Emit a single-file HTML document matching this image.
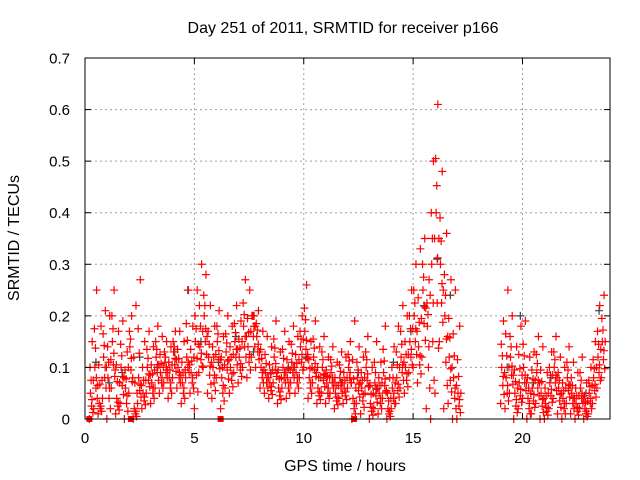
<!DOCTYPE html>
<html><head><meta charset="utf-8">
<style>
html,body{margin:0;padding:0;background:#fff;}
svg{display:block;font-family:"Liberation Sans",sans-serif;}
</style></head>
<body>
<svg id="chart" width="640" height="480" xmlns="http://www.w3.org/2000/svg">
<rect width="640" height="480" fill="#fff"/>
<g id="grid"></g>
<g id="marks"></g>
<g id="axes"></g>
<text x="343" y="33" font-size="16" text-anchor="middle">Day 251 of 2011, SRMTID for receiver p166</text>
<text x="345" y="471" font-size="16" text-anchor="middle">GPS time / hours</text>
<text transform="translate(19,238) rotate(-90)" font-size="16" text-anchor="middle">SRMTID / TECUs</text>
</svg>
<script>
const xTicks=[0,5,10,15,20];
const yTicks=[0,0.1,0.2,0.3,0.4,0.5,0.6,0.7];
const yTickLabels=["0","0.1","0.2","0.3","0.4","0.5","0.6","0.7"];
const times=[0.2,0.4,0.6,0.8,1.0,1.2,1.4,1.6,1.8,2.0,2.2,2.4,2.6,2.8,3.0,3.2,3.4,3.6,3.8,4.0,4.2,4.4,4.6,4.8,5.0,5.2,5.4,5.6,5.8,6.0,6.2,6.4,6.6,6.8,7.0,7.2,7.4,7.6,7.8,8.0,8.2,8.4,8.6,8.8,9.0,9.2,9.4,9.6,9.8,10.0,10.2,10.4,10.6,10.8,11.0,11.2,11.4,11.6,11.8,12.0,12.2,12.4,12.6,12.8,13.0,13.2,13.4,13.6,13.8,14.0,14.2,14.4,14.6,14.8,15.0,15.2,15.4,15.6,15.8,16.0,16.2,16.4,16.6,16.8,17.0,19.0,19.2,19.4,19.6,19.8,20.0,20.2,20.4,20.6,20.8,21.0,21.2,21.4,21.6,21.8,22.0,22.2,22.4,22.6,22.8,23.0,23.2,23.4,23.6];
const valuesMid=[.05,.10,.03,.12,.08,.15,.04,.10,.06,.14,.02,.08,.05,.10,.07,.12,.09,.11,.08,.13,.10,.07,.12,.09,.15,.14,.20,.12,.10,.15,.08,.13,.10,.15,.12,.18,.14,.20,.16,.10,.09,.07,.12,.06,.10,.08,.11,.09,.14,.17,.08,.12,.06,.10,.07,.09,.05,.08,.06,.10,.04,.08,.06,.10,.03,.07,.05,.09,.02,.06,.08,.12,.10,.15,.20,.14,.25,.18,.30,.40,.30,.20,.12,.08,.05,.10,.08,.12,.05,.07,.10,.04,.06,.09,.05,.03,.07,.10,.06,.04,.08,.05,.03,.06,.02,.05,.08,.12,.15];
const valuesLow=[.00,.02,.01,.04,.00,.06,.01,.03,.00,.05,.00,.03,.02,.05,.03,.06,.05,.07,.04,.08,.06,.03,.08,.05,.02,.09,.10,.05,.04,.08,.02,.06,.05,.09,.07,.10,.08,.12,.10,.06,.05,.04,.07,.03,.06,.04,.07,.05,.08,.10,.04,.07,.03,.05,.03,.05,.02,.04,.03,.06,.00,.03,.01,.05,.00,.02,.01,.04,.00,.02,.03,.06,.05,.09,.10,.07,.12,.02,.00,.05,.15,.02,.03,.00,.00,.03,.02,.05,.00,.02,.04,.00,.01,.03,.00,.00,.02,.04,.01,.00,.03,.01,.00,.02,.00,.01,.03,.06,.08];
const valuesHigh=[.15,.25,.18,.21,.20,.25,.17,.19,.13,.20,.22,.27,.15,.17,.14,.18,.16,.15,.14,.17,.17,.15,.25,.18,.25,.30,.28,.22,.18,.21,.16,.20,.18,.22,.19,.27,.25,.20,.21,.17,.16,.14,.19,.13,.17,.15,.18,.16,.20,.26,.15,.19,.14,.16,.12,.14,.11,.13,.12,.15,.19,.14,.12,.16,.10,.15,.11,.18,.08,.14,.18,.22,.20,.25,.30,.33,.35,.27,.50,.61,.48,.36,.27,.25,.18,.19,.25,.20,.14,.18,.19,.12,.13,.16,.14,.09,.13,.16,.12,.10,.14,.11,.09,.12,.07,.10,.15,.22,.24];
const grayTimes=[0.5,1.1,1.7,2.5,3.3,4.1,4.7,5.3,6.1,6.9,7.7,8.5,9.3,10.1,10.9,11.7,12.5,13.3,14.1,14.9,15.5,16.1,16.7,19.3,19.9,20.5,21.3,22.1,22.9,23.5];
const grayValues=[.11,.07,.09,.12,.10,.13,.25,.15,.11,.16,.13,.09,.10,.12,.08,.07,.09,.06,.11,.17,.22,.31,.24,.10,.20,.07,.08,.06,.05,.21];
const zeroTimes=[0.2,2.1,6.2,12.3];

const X0=85,X1=610,Y0=419,Y1=58,XMAX=24,YMAX=0.7;
const xs=t=>X0+(X1-X0)*t/XMAX;
const ys=v=>Y0-(Y0-Y1)*v/YMAX;
const NS="http://www.w3.org/2000/svg";
function mk(tag,attrs,parent){const e=document.createElementNS(NS,tag);for(const k in attrs)e.setAttribute(k,attrs[k]);parent.appendChild(e);return e;}
const grid=document.getElementById('grid'),axes=document.getElementById('axes'),marks=document.getElementById('marks');

xTicks.forEach((t,i)=>{
  const x=xs(t);
  if(t>0){const g=mk('line',{x1:x,y1:Y1,x2:x,y2:Y0,stroke:'#a0a0a0','stroke-dasharray':'2,3','stroke-width':1},grid);
  
  }
  mk('line',{x1:x,y1:Y0,x2:x,y2:Y0-6,stroke:'#000'},axes);
  mk('line',{x1:x,y1:Y1,x2:x,y2:Y1+6,stroke:'#000'},axes);
  const l=mk('text',{x:x,y:Y0+24,'font-size':15,'text-anchor':'middle'},axes);
  l.textContent=String(t);
  
  
});
yTicks.forEach((v,i)=>{
  const y=ys(v);
  if(v>0&&v<YMAX){const g=mk('line',{x1:X0,y1:y,x2:X1,y2:y,stroke:'#a0a0a0','stroke-dasharray':'2,3','stroke-width':1},grid);
  
  }
  mk('line',{x1:X0,y1:y,x2:X0+6,y2:y,stroke:'#000'},axes);
  mk('line',{x1:X1,y1:y,x2:X1-6,y2:y,stroke:'#000'},axes);
  const l=mk('text',{x:X0-15,y:y+5.5,'font-size':15,'text-anchor':'end'},axes);
  l.textContent=yTickLabels[i];
  
  
});
const frame=mk('rect',{x:X0,y:Y1,width:X1-X0,height:Y0-Y1,fill:'none',stroke:'#000'},axes);



function plus(t,v,color){
  const x=xs(t),y=ys(v);
  const p=mk('path',{d:`M${x-4},${y}H${x+4}M${x},${y-4}V${y+4}`,stroke:color,'stroke-width':1.2,fill:'none'},marks);
  
  
}
grayTimes.forEach((t,i)=>plus(t,grayValues[i],'#404040'));
times.forEach((t,i)=>{
  const lo=valuesLow[i],mid=valuesMid[i],hi=valuesHigh[i];
  const nmid=i+1<times.length&&times[i+1]-t<0.3?valuesMid[i+1]:mid;
  plus(t,lo,'#f00');
  plus(t+0.05,mid,'#f00');
  plus(t+0.13,hi,'#f00');
  plus(t+0.1,(lo+mid)/2,'#f00');
  plus(t+0.03,(mid+hi)/2,'#f00');
  plus(t+0.16,(lo*3+mid)/4,'#f00');
  plus(t+0.08,(mid*3+hi)/4,'#f00');
  plus(t+0.18,(mid+nmid)/2,'#f00');
  plus(t+0.12,(lo+mid*3)/4,'#f00');
});
zeroTimes.forEach(t=>{
  const r=mk('rect',{x:xs(t)-3,y:Y0-3,width:6,height:6,fill:'#f00'},marks);
  
  
});
</script>
</body></html>
